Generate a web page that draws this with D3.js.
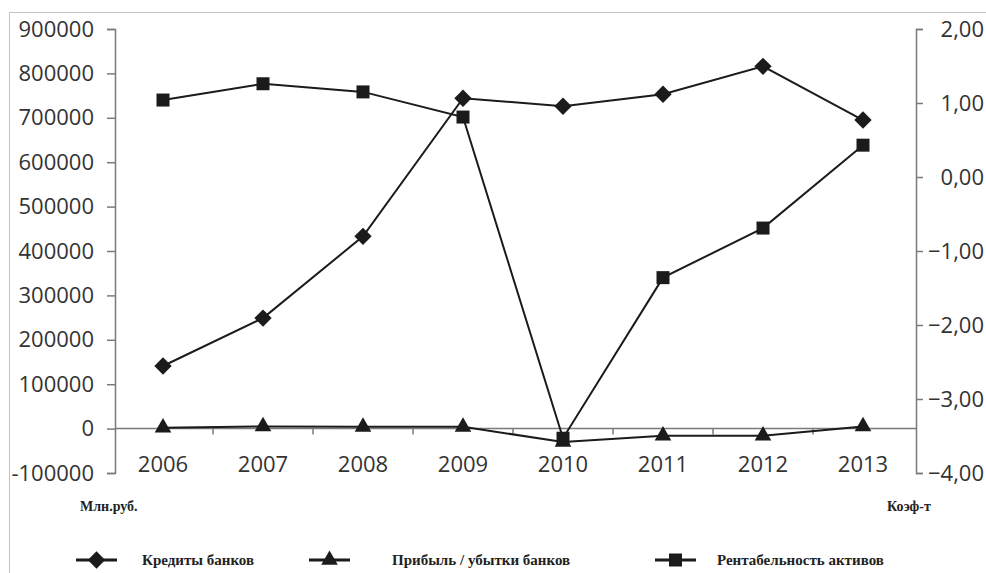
<!DOCTYPE html>
<html>
<head>
<meta charset="utf-8">
<script src="https://cdn.jsdelivr.net/npm/d3@7"></script>
<style>
  body { margin: 0; background: #fff; }
  .tick text { font-family: "Open Sans", sans-serif; font-size: 22px; fill: #333; }
  .note { font-family: "Liberation Serif", serif; font-weight: bold; fill: #222; }
</style>
</head>
<body>
<div id="chart"></div>
<script>
// values
let years = ["2006", "2007", "2008", "2009", "2010", "2011", "2012", "2013"]
let credits = [141000, 249000, 433000, 744000, 726000, 753000, 816000, 695000]   // Кредиты банков, млн руб.
let profit = [2000, 5000, 4000, 4000, -30000, -16000, -16000, 5000]              // Прибыль / убытки банков
let roa = [1.04, 1.26, 1.15, 0.81, -3.53, -1.36, -0.69, 0.43]                    // Рентабельность активов, коэф.

let leftTicks = [-100000, 0, 100000, 200000, 300000, 400000, 500000, 600000, 700000, 800000, 900000]
let rightTicks = [-4, -3, -2, -1, 0, 1, 2]
let seriesNames = ["Кредиты банков", "Прибыль / убытки банков", "Рентабельность активов"]

let width = 986, height = 573
let ink = "#1b1b1b", axisColor = "#7a7a7a"

let svg = d3.select("#chart")
  .append("svg")
  .attr("width", width)
  .attr("height", height)

// frame round the figure (cut by the picture edge on the right/bottom)
svg.append("rect")
  .attr("x", 9.5).attr("y", 12.5)
  .attr("width", 1000).attr("height", 600)
  .attr("fill", "none")
  .attr("stroke", "#c4c4c4")

let x = d3.scaleBand().domain(years).range([113, 913])
let yLeft = d3.scaleLinear().domain([-100000, 900000]).range([473, 29])
let yRight = d3.scaleLinear().domain([-4, 2]).range([473, 29])
let cx = d => x(d) + x.bandwidth() / 2

// left axis
let gl = svg.append("g")
  .attr("transform", "translate(115,0)")
  .call(d3.axisLeft(yLeft).tickValues(leftTicks).tickSize(8).tickPadding(13)
    .tickFormat(d => String(d)))
gl.selectAll(".domain, .tick line").attr("stroke", axisColor).attr("stroke-width", 1.5)

// right axis (labels pushed to the picture edge, as in the original)
let gr = svg.append("g")
  .attr("transform", "translate(916,0)")
  .call(d3.axisRight(yRight).tickValues(rightTicks).tickSize(7)
    .tickFormat(d => d3.format(".2f")(d).replace(".", ",")))
gr.selectAll(".domain, .tick line").attr("stroke", axisColor).attr("stroke-width", 1.5)
gr.selectAll(".tick text").attr("x", 68).attr("text-anchor", "end")

// zero line with category boundary ticks
let y0 = yLeft(0)
svg.append("line")
  .attr("x1", 115).attr("x2", 916)
  .attr("y1", y0).attr("y2", y0)
  .attr("stroke", axisColor).attr("stroke-width", 1.5)
svg.selectAll(".xtick")
  .data(years.slice(1))
  .enter()
  .append("line")
  .attr("x1", d => x(d)).attr("x2", d => x(d))
  .attr("y1", y0).attr("y2", y0 + 6)
  .attr("stroke", axisColor).attr("stroke-width", 1.5)

// year labels
let gx = svg.append("g")
  .attr("transform", "translate(0," + y0 + ")")
  .call(d3.axisBottom(x).tickSize(0).tickPadding(28))
gx.select(".domain").remove()

// series
let series = [
  {name: seriesNames[0], values: credits, y: yLeft, shape: "diamond"},
  {name: seriesNames[1], values: profit, y: yLeft, shape: "triangle"},
  {name: seriesNames[2], values: roa, y: yRight, shape: "square"}
]

function marker(sel, shape) {
  if (shape == "diamond") {
    sel.attr("d", d3.symbol(d3.symbolSquare, 150)())
      .attr("transform", function() { return d3.select(this).attr("transform") + " rotate(45)" })
  } else if (shape == "triangle") {
    sel.attr("d", d3.symbol(d3.symbolTriangle, 120)())
  } else {
    sel.attr("d", d3.symbol(d3.symbolSquare, 169)())
  }
  sel.attr("fill", ink)
}

series.forEach(function(s) {
  let pts = years.map((yr, i) => ({year: yr, v: s.values[i]}))
  svg.append("path")
    .datum(pts)
    .attr("fill", "none")
    .attr("stroke", ink)
    .attr("stroke-width", 2)
    .attr("d", d3.line().x(d => cx(d.year)).y(d => s.y(d.v)))
})

series.forEach(function(s) {
  let pts = years.map((yr, i) => ({year: yr, v: s.values[i]}))
  svg.selectAll(".m-" + s.shape)
    .data(pts)
    .enter()
    .append("path")
    .attr("class", "m-" + s.shape)
    .attr("transform", d => "translate(" + cx(d.year) + "," + s.y(d.v) + ")")
    .call(marker, s.shape)
})

// unit notes
svg.append("text").attr("class", "note")
  .attr("x", 80).attr("y", 511).attr("font-size", 14)
  .text("Млн.руб.")
svg.append("text").attr("class", "note")
  .attr("x", 887).attr("y", 511).attr("font-size", 14)
  .text("Коэф-т")

// legend
let legendX = [76, 309, 655]
let textX = [142, 392, 717]
let ly = 560
let lg = svg.selectAll(".legend")
  .data(series)
  .enter()
  .append("g")
  .attr("class", "legend")

lg.append("line")
  .attr("x1", (d, i) => legendX[i]).attr("x2", (d, i) => legendX[i] + 41)
  .attr("y1", ly).attr("y2", ly)
  .attr("stroke", ink).attr("stroke-width", 3)

lg.append("path")
  .attr("transform", (d, i) => "translate(" + (legendX[i] + 20.5) + "," + ly + ")")
  .each(function(d) { d3.select(this).call(marker, d.shape) })

lg.append("text")
  .attr("class", "note")
  .attr("x", (d, i) => textX[i]).attr("y", ly + 5)
  .attr("font-size", 15)
  .text(d => d.name)
</script>
</body>
</html>
